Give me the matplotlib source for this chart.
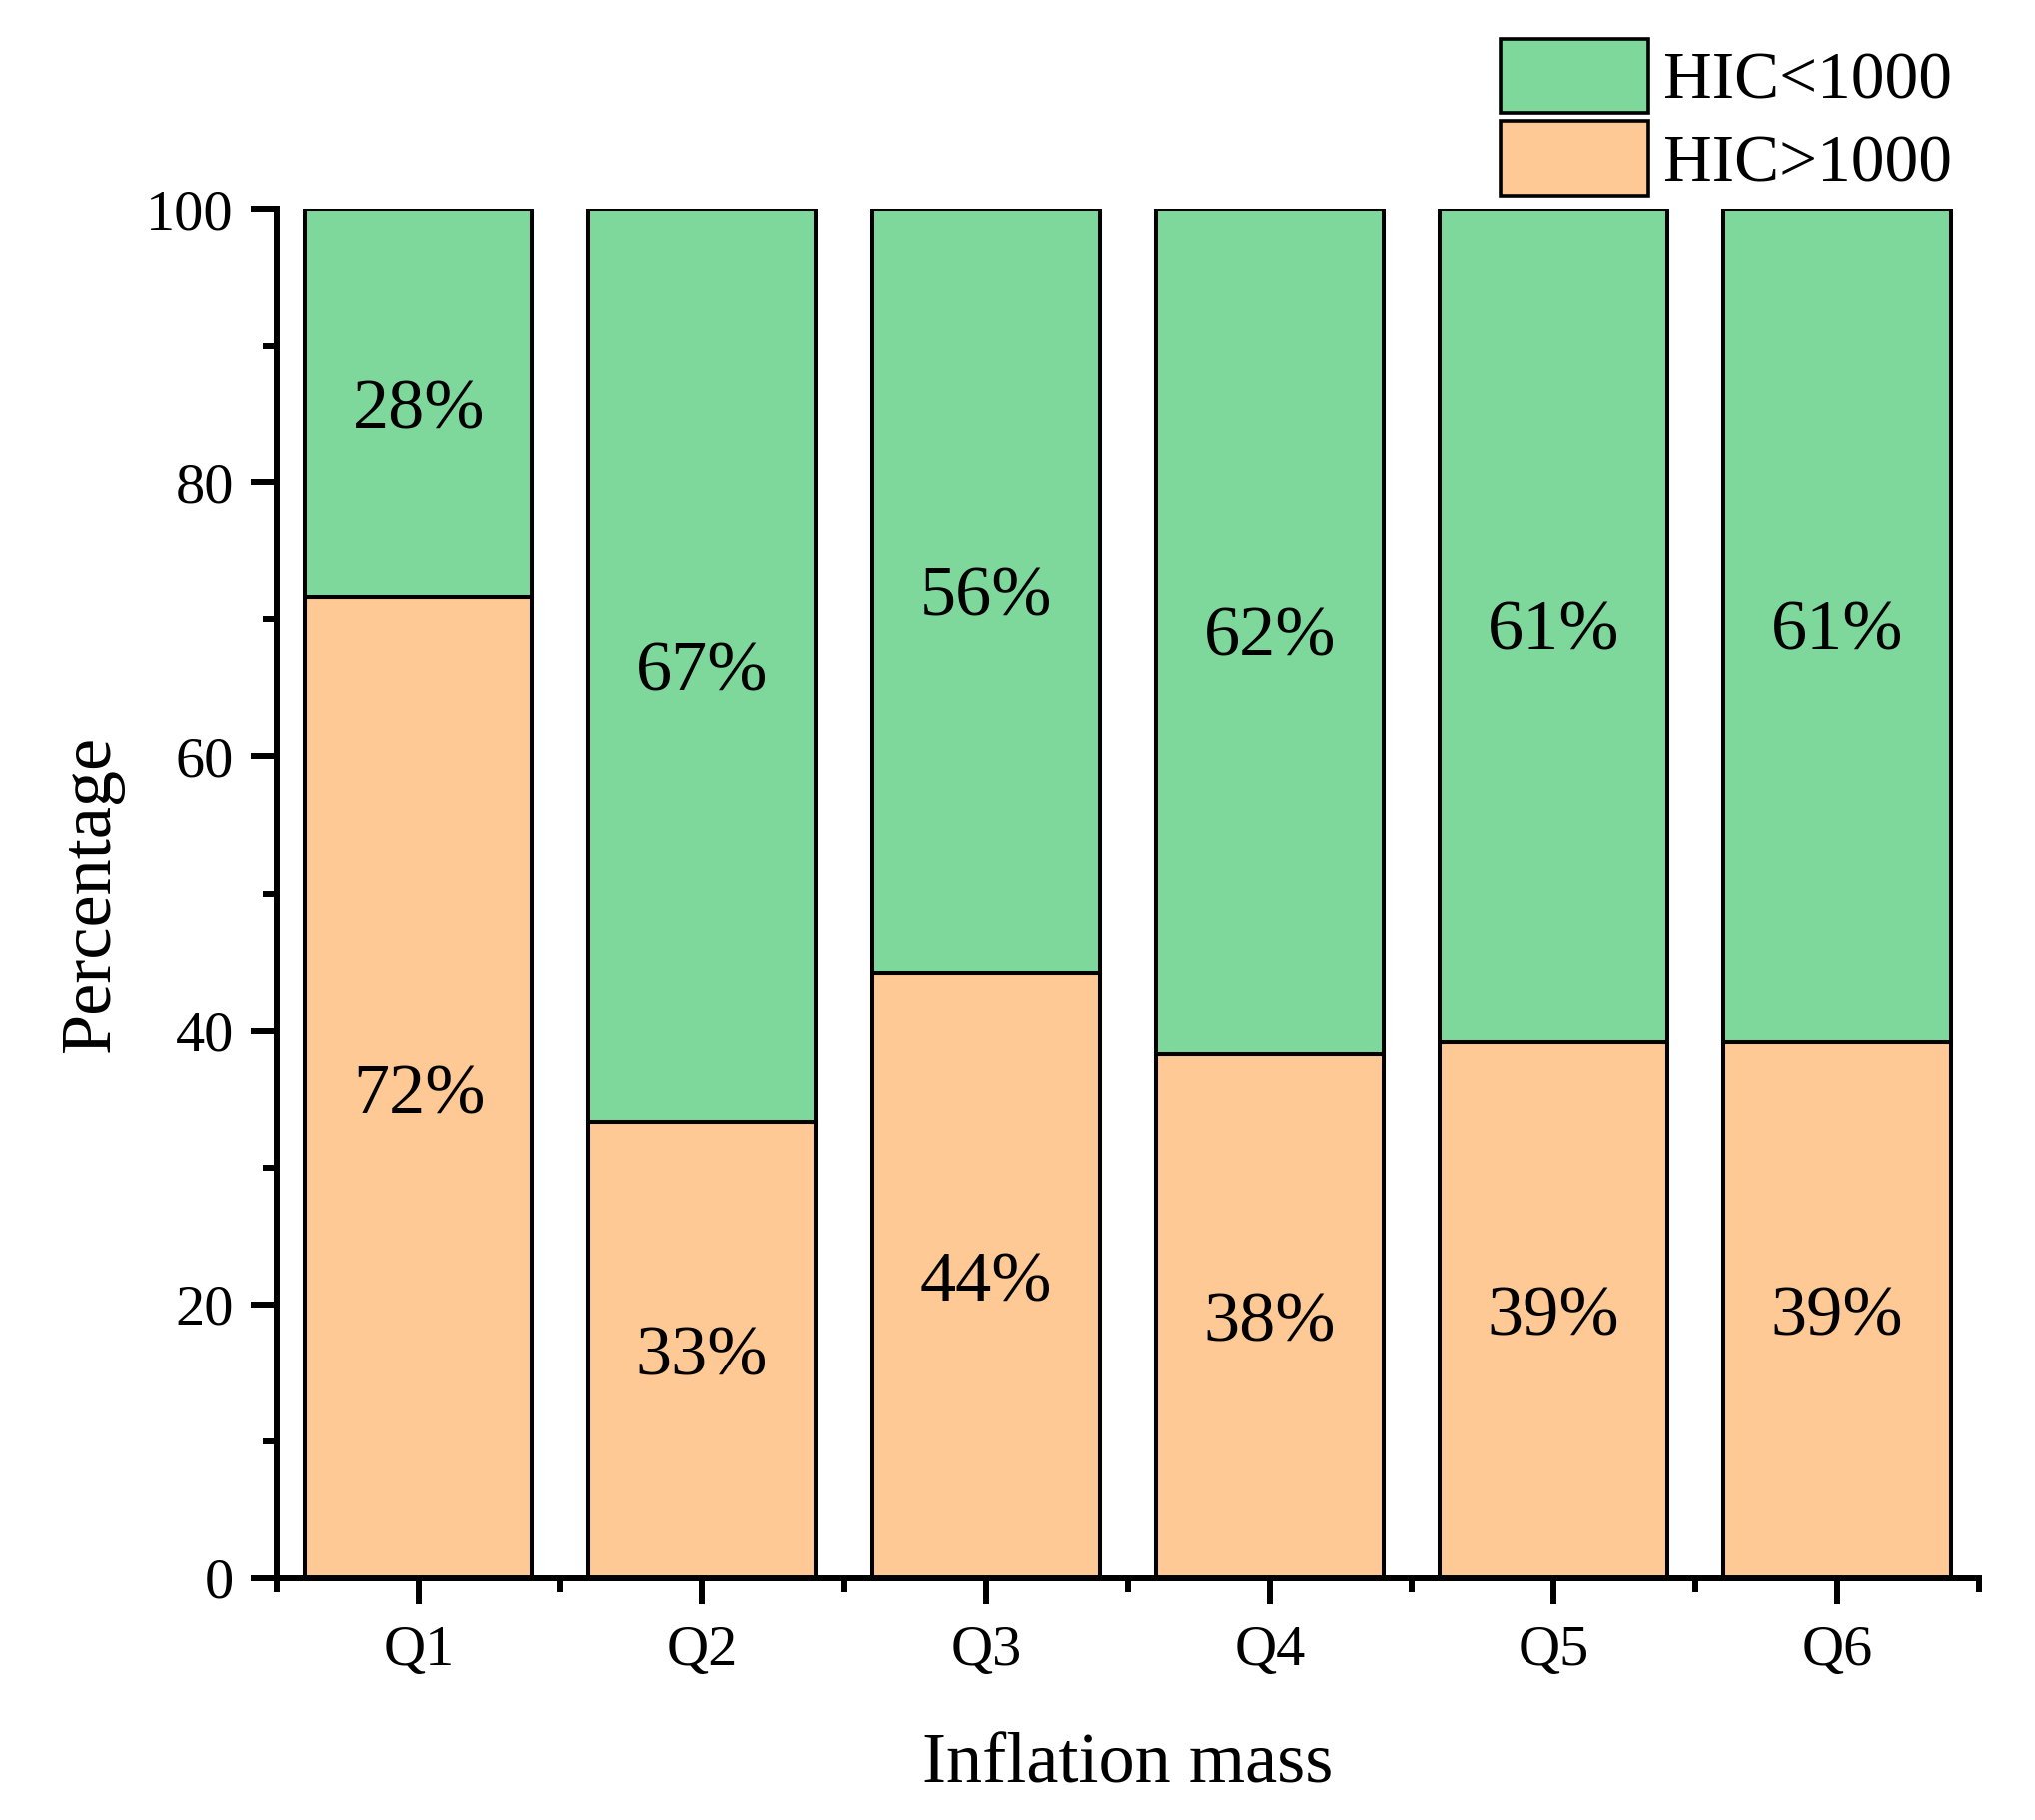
import matplotlib
matplotlib.use("Agg")
import matplotlib.pyplot as plt
from matplotlib.ticker import MultipleLocator, FixedLocator
import numpy as np

categories = ["Q1", "Q2", "Q3", "Q4", "Q5", "Q6"]
hic_above = [71.6, 33.3, 44.2, 38.3, 39.2, 39.2]   # HIC>1000 (%)
hic_below = [28.4, 66.7, 55.8, 61.7, 60.8, 60.8]   # HIC<1000 (%)
labels_above = ["72%", "33%", "44%", "38%", "39%", "39%"]
labels_below = ["28%", "67%", "56%", "62%", "61%", "61%"]

green = "#7fd89b"
orange = "#fec994"

plt.rcParams["font.family"] = ["Liberation Serif", "DejaVu Serif"]

W, H = 2037, 1822
fig = plt.figure(figsize=(W / 100, H / 100), dpi=100)
ax = fig.add_axes([277 / W, 1 - 1580 / H, (1981 - 277) / W, (1580 - 209) / H])

x = np.arange(1, len(categories) + 1)
b1 = ax.bar(x, hic_above, width=0.8, color=orange, edgecolor="black", linewidth=2.9,
            label="HIC>1000", zorder=2)
b2 = ax.bar(x, hic_below, width=0.8, bottom=hic_above, color=green, edgecolor="black",
            linewidth=2.9, label="HIC<1000", zorder=2)

for xi, a, b, la, lb in zip(x, hic_above, hic_below, labels_above, labels_below):
    ax.text(xi, a / 2, la, ha="center", va="center_baseline", fontsize=52, zorder=3)
    ax.text(xi, a + b / 2, lb, ha="center", va="center_baseline", fontsize=52, zorder=3)

ax.set_xlim(0.5, 6.5)
ax.set_ylim(0, 100)
ax.set_xticks(x)
ax.set_xticklabels(categories)
ax.xaxis.set_minor_locator(FixedLocator(np.arange(0.5, 6.6, 1.0)))
ax.yaxis.set_major_locator(MultipleLocator(20))
ax.yaxis.set_minor_locator(MultipleLocator(10))

for s in ["top", "right"]:
    ax.spines[s].set_visible(False)
for s in ["left", "bottom"]:
    ax.spines[s].set_linewidth(4.3)

ax.tick_params(axis="both", which="major", direction="out", length=19, width=4.3,
               labelsize=42, pad=12)
ax.tick_params(axis="x", which="major", pad=14.5)
ax.tick_params(axis="both", which="minor", direction="out", length=10, width=4.3)

ax.set_xlabel("Inflation mass", fontsize=52, labelpad=40)
ax.set_ylabel("Percentage", fontsize=52, labelpad=16)

handles = [b2, b1]
leg = fig.legend(handles, ["HIC<1000", "HIC>1000"], loc="upper left",
                 bbox_to_anchor=(1502 / W, 1 - 39 / H), frameon=False, fontsize=48.5,
                 handlelength=2.2, handleheight=1.32, labelspacing=0.12,
                 handletextpad=0.22, borderpad=0, borderaxespad=0)
for p in leg.get_patches():
    p.set_linewidth(2.6)

fig.savefig("out.png", dpi=100)
